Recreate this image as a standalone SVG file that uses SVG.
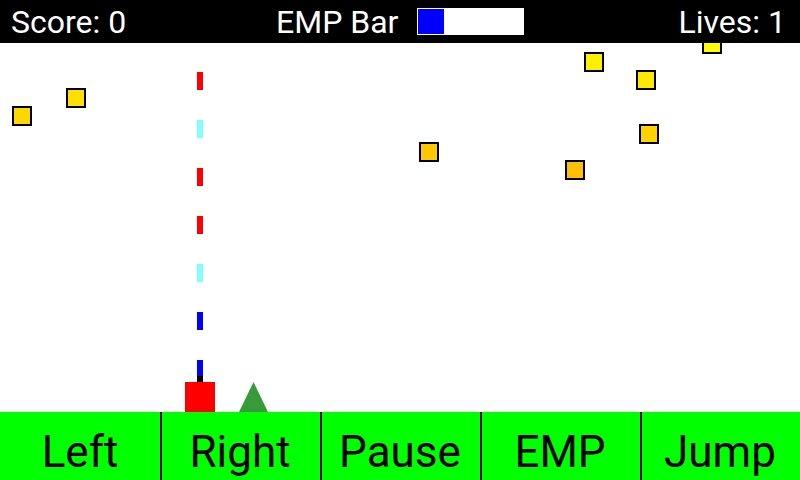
<svg xmlns="http://www.w3.org/2000/svg" width="800" height="480" viewBox="0 0 800 480">
<style>
.hud{font-family:Roboto,"Noto Sans","Liberation Sans",sans-serif;font-size:32px;fill:#ffffff}
.btn{font-family:Roboto,"Noto Sans","Liberation Sans",sans-serif;font-size:44px;fill:#000000;text-anchor:middle}
.blk{stroke:#000000;stroke-width:2}
.div{fill:#000000}
</style>
<rect x="0" y="0" width="800" height="480" fill="#ffffff"/>
<g id="enemies">
<rect class="blk" x="13" y="107" width="18" height="18" fill="#ffd800"/>
<rect class="blk" x="67" y="89" width="18" height="18" fill="#ffe000"/>
<rect class="blk" x="420" y="143" width="18" height="18" fill="#ffc800"/>
<rect class="blk" x="585" y="53" width="18" height="18" fill="#fff000"/>
<rect class="blk" x="637" y="71" width="18" height="18" fill="#ffe800"/>
<rect class="blk" x="640" y="125" width="18" height="18" fill="#ffd200"/>
<rect class="blk" x="566" y="161" width="18" height="18" fill="#ffc000"/>
<rect class="blk" x="703" y="35" width="18" height="18" fill="#ffff00"/>
</g>
<g id="shots">
<rect x="197" y="72" width="6" height="18" fill="#ff0000"/>
<rect x="197" y="120" width="6" height="18" fill="#80ffff"/>
<rect x="197" y="168" width="6" height="18" fill="#ff0000"/>
<rect x="197" y="216" width="6" height="18" fill="#ff0000"/>
<rect x="197" y="264" width="6" height="18" fill="#80ffff"/>
<rect x="197" y="312" width="6" height="18" fill="#0000ff"/>
<rect x="197" y="360" width="6" height="18" fill="#0000ff"/>
</g>
<g id="player">
<rect x="197" y="376" width="6" height="6" fill="#000000"/>
<rect x="185" y="382" width="30" height="30" fill="#ff0000"/>
</g>
<g id="spike">
<polygon points="239,412 253.5,382 268,412" fill="#389a3a"/>
</g>
<g id="header">
<rect x="0" y="0" width="800" height="43" fill="#000000"/>
<text class="hud" x="11" y="33">Score: 0</text>
<text class="hud" x="276" y="33">EMP Bar</text>
<rect x="417" y="8" width="107" height="27" fill="#ffffff"/>
<rect x="418" y="9" width="26" height="25" fill="#0000ff"/>
<text class="hud" x="786" y="33" text-anchor="end">Lives: 1</text>
</g>
<g id="controls">
<rect x="0" y="412" width="800" height="68" fill="#00ff00"/>
<rect class="div" x="160" y="412" width="2" height="68"/>
<rect class="div" x="320" y="412" width="2" height="68"/>
<rect class="div" x="480" y="412" width="2" height="68"/>
<rect class="div" x="640" y="412" width="2" height="68"/>
<text class="btn" x="80" y="467">Left</text>
<text class="btn" x="240" y="467">Right</text>
<text class="btn" x="400" y="467">Pause</text>
<text class="btn" x="560" y="467">EMP</text>
<text class="btn" x="720" y="467">Jump</text>
</g>
</svg>
